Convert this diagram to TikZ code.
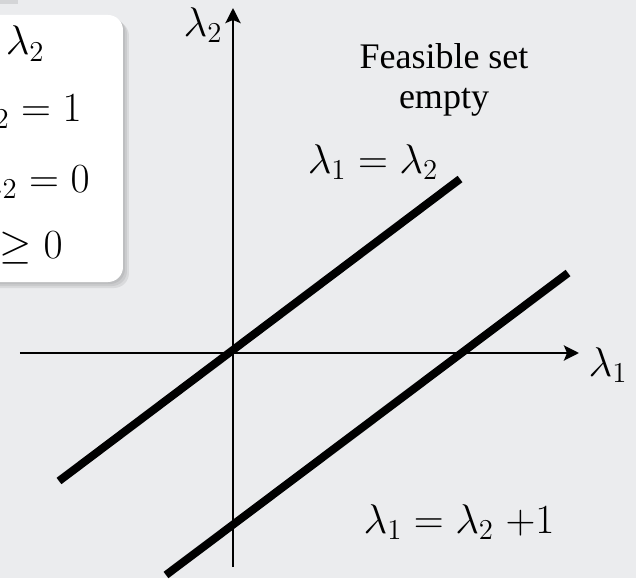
\documentclass[tikz,border=0pt]{standalone}
\usepackage{fontspec}
\setmainfont{Liberation Serif}
\usetikzlibrary{arrows.meta,positioning,calc}
\definecolor{slidebg}{RGB}{235,236,238}
\definecolor{shadowgray}{RGB}{120,120,120}
\definecolor{tabgray}{RGB}{212,213,215}

\tikzset{
  axis/.style={line width=1.4pt},
  feasline/.style={line width=4pt},
  lbl/.style={inner sep=0pt, font=\fontsize{22}{26}\selectfont},
  boxlbl/.style={inner sep=0pt, anchor=base east, font=\fontsize{21}{24}\selectfont},
}

\begin{document}
\begin{tikzpicture}[x=0.5pt, y=0.5pt, >={Stealth[length=7.5pt,width=7.5pt,inset=1.5pt]}]
\path[use as bounding box, clip] (-233,-225) rectangle (403,353);
\fill[slidebg] (-233,-225) rectangle (403,353);
\fill[tabgray] (-233,349) rectangle (-215,353);
% problem box (cut by the page edge)
\foreach \s in {2,4,6}
  \fill[shadowgray, opacity=0.15, rounded corners=7.5pt] (-400+\s,71-\s) rectangle (-110+\s,338-\s);
\fill[white, rounded corners=7.5pt] (-400,71) rectangle (-110,338);
\node[boxlbl] (obj) at (-188,298) {$\min\ \lambda_1\;{+}\;\lambda_2$};
\node[boxlbl] (con1) at (-151,231) {s.t.\ $\lambda_1-\lambda_2=1$};
\node[boxlbl] (con2) at (-143,161) {$\lambda_1-\lambda_2=0$};
\node[boxlbl] (con3) at (-170,95) {$\lambda_1,\lambda_2\geq 0$};
% axes
\coordinate (xl) at (-213,0); \coordinate (xr) at (346,0);
\coordinate (yb) at (0,-214); \coordinate (yt) at (0,345);
\draw[axis,->] (xl) -- (xr);
\draw[axis,->] (yb) -- (yt);
\node[lbl] (lamx) at (375,-12) {$\lambda_1$};
\node[lbl] (lamy) at (-30,328) {$\lambda_2$};
% the two constraint lines
\coordinate (a0) at (-174,-128); \coordinate (a1) at (227,174);
\coordinate (b0) at (-67,-222); \coordinate (b1) at (335,80);
\draw[feasline] (a0) -- (a1);
\draw[feasline] (b0) -- (b1);
\node[lbl] (eqa) at (140,191) {$\lambda_1=\lambda_2$};
\node[lbl] (eqb) at (226,-169) {$\lambda_1=\lambda_2\;{+}1$};
\node[font=\fontsize{18}{20}\selectfont, align=center] (empty) at (211,273) {Feasible set\\empty};
\end{tikzpicture}
\end{document}
